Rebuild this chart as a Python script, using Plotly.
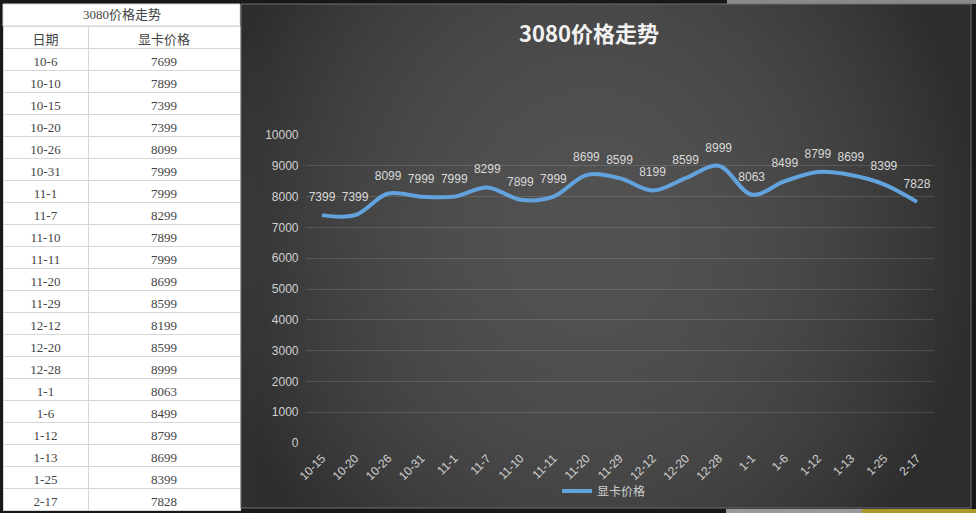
import zlib, struct, base64
import numpy as np
import plotly.graph_objects as go

# ---------------- data ----------------
table_title = "3080价格走势"
table_header = ["日期", "显卡价格"]
table_dates = ["10-6", "10-10", "10-15", "10-20", "10-26", "10-31", "11-1", "11-7",
               "11-10", "11-11", "11-20", "11-29", "12-12", "12-20", "12-28", "1-1",
               "1-6", "1-12", "1-13", "1-25", "2-17"]
table_prices = [7699, 7899, 7399, 7399, 8099, 7999, 7999, 8299, 7899, 7999, 8699,
                8599, 8199, 8599, 8999, 8063, 8499, 8799, 8699, 8399, 7828]

chart_title = "3080价格走势"
series_name = "显卡价格"
chart_dates = table_dates[2:]
chart_prices = table_prices[2:]
y_ticks = [0, 1000, 2000, 3000, 4000, 5000, 6000, 7000, 8000, 9000, 10000]

# ---------------- layout helpers ----------------
W, H = 976, 513
def px(x):
    return x / W
def py(y):
    return 1 - y / H

# gradient background image for the chart panel (grayscale PNG)
pw, ph = 730, 504
yy, xx = np.mgrid[0:ph, 0:pw]
r = np.sqrt(((xx - 349) / 390.0) ** 2 + ((yy - 230) / 440.0) ** 2)
v = 45 + 37 * (1 - np.clip(r, 0, 1) ** 2)
arr = np.clip(v, 0, 255).astype(np.uint8)

def png_gray(a):
    h, w = a.shape
    raw = b"".join(b"\x00" + a[i].tobytes() for i in range(h))
    def chunk(t, d):
        c = struct.pack(">I", len(d)) + t + d
        return c + struct.pack(">I", zlib.crc32(t + d) & 0xffffffff)
    return (b"\x89PNG\r\n\x1a\n"
            + chunk(b"IHDR", struct.pack(">IIBBBBB", w, h, 8, 0, 0, 0, 0))
            + chunk(b"IDAT", zlib.compress(raw, 9))
            + chunk(b"IEND", b""))

bg_src = "data:image/png;base64," + base64.b64encode(png_gray(arr)).decode()

serif = "Liberation Serif, Noto Sans CJK SC, serif"
sans = "Liberation Sans, Arial, sans-serif"
cjk = "Noto Sans CJK SC, sans-serif"

fig = go.Figure()

# table
fig.add_trace(go.Table(
    domain=dict(x=[px(3), px(240)], y=[0, py(26)]),
    columnwidth=[85, 152],
    header=dict(values=table_header, fill_color="white", line=dict(color="#d6d6d6", width=1),
                font=dict(family=serif, size=13, color="#444444"), height=22, align="center"),
    cells=dict(values=[table_dates, table_prices], fill_color="white",
               line=dict(color="#d6d6d6", width=1),
               font=dict(family=serif, size=13, color="#444444"), height=22, align="center"),
))

# line chart
fig.add_trace(go.Scatter(
    x=chart_dates, y=chart_prices, name=series_name,
    mode="lines+markers+text",
    line=dict(color="#62a3de", width=4, shape="spline", smoothing=1),
    marker=dict(size=16, color="rgba(0,0,0,0)"),
    text=[str(p) for p in chart_prices], textposition="top center",
    textfont=dict(family=sans, size=12, color="#d9d9d9"),
    cliponaxis=False, hoverinfo="x+y",
))

shapes = [
    # table title row
    dict(type="rect", xref="paper", yref="paper", x0=px(3), x1=px(240), y0=py(26), y1=py(4),
         fillcolor="white", line=dict(color="#d6d6d6", width=1), layer="below"),
    # chart panel border
    dict(type="rect", xref="paper", yref="paper", x0=px(241), x1=px(971), y0=py(508), y1=py(4),
         fillcolor="rgba(0,0,0,0)", line=dict(color="#6e6e6e", width=1), layer="above"),
    # surrounding screenshot strips
    dict(type="rect", xref="paper", yref="paper", x0=px(727), x1=1, y0=py(4), y1=1,
         fillcolor="#8a8a8a", line=dict(width=0), layer="below"),
    dict(type="rect", xref="paper", yref="paper", x0=px(726), x1=px(862), y0=0, y1=py(509),
         fillcolor="#9a9a9a", line=dict(width=0), layer="below"),
    dict(type="rect", xref="paper", yref="paper", x0=px(862), x1=1, y0=0, y1=py(509),
         fillcolor="#a89a2a", line=dict(width=0), layer="below"),
]

fig.update_layout(
    width=W, height=H, autosize=False,
    margin=dict(l=0, r=0, t=0, b=0, pad=0),
    paper_bgcolor="#181818", plot_bgcolor="rgba(0,0,0,0)",
    images=[dict(source=bg_src, xref="paper", yref="paper", x=px(241), y=py(4),
                 sizex=730 / W, sizey=504 / H, xanchor="left", yanchor="top",
                 sizing="stretch", layer="below")],
    shapes=shapes,
    annotations=[
        dict(text=table_title, x=px(121.5), y=py(15), xref="paper", yref="paper",
             showarrow=False, xanchor="center", yanchor="middle",
             font=dict(family=serif, size=13, color="#444444")),
        dict(text=chart_title, x=px(589), y=py(32), xref="paper", yref="paper",
             showarrow=False, xanchor="center", yanchor="middle",
             font=dict(family=cjk, size=22, color="#f2f2f2", weight="bold")),
    ],
    xaxis=dict(domain=[px(305.5), px(933.5)], type="category", tickangle=-45,
               range=[-0.5, len(chart_dates) - 0.5], ticklabelstandoff=5,
               showgrid=False, showline=False, zeroline=False, ticks="", automargin=False,
               tickfont=dict(family=sans, size=12, color="#d0d0d0")),
    yaxis=dict(domain=[py(443), py(135)], range=[0, 10000], tickvals=y_ticks,
               ticktext=[str(t) for t in y_ticks], automargin=False,
               showgrid=True, gridcolor="rgba(255,255,255,0.13)", gridwidth=1,
               zeroline=False, showline=False, ticks="", ticklabelstandoff=6,
               tickfont=dict(family=sans, size=12, color="#d0d0d0")),
    showlegend=True,
    legend=dict(orientation="h", x=px(604), xanchor="center", y=py(491), yanchor="middle",
                bgcolor="rgba(0,0,0,0)", font=dict(family=cjk, size=12, color="#d0d0d0")),
)

fig.write_html("out.html", config={"displayModeBar": False},
               post_script="document.body.style.margin='0';document.body.style.overflow='hidden';")
